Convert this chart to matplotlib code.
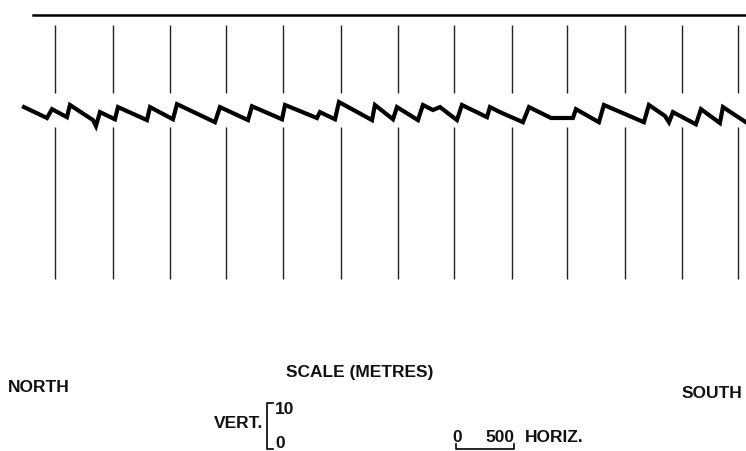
import matplotlib
matplotlib.use('Agg')
import matplotlib.pyplot as plt
from matplotlib.lines import Line2D

plt.rcParams['font.family'] = ['Liberation Sans', 'DejaVu Sans']

# seabed profile: distance along line (m), relative height (m)
dist = [-267, -69, -26, 103, 129, 328, 353, 388, 517, 543, 793, 819, 1017, 1052,
        1379, 1422, 1664, 1698, 1957, 1983, 2258, 2284, 2414, 2448, 2733, 2758,
        2914, 2948, 3129, 3172, 3258, 3319, 3465, 3508, 3724, 3750, 3836, 4034,
        4086, 4276, 4465, 4491, 4689, 4732, 5077, 5120, 5258, 5293, 5327, 5525,
        5569, 5732, 5758, 5956]
height = [3.1, 0.5, 2.6, 0.7, 3.6, 0.0, -1.4, 1.9, 0.2, 3.1, 0.0, 3.1, 0.2, 3.8,
          -0.5, 3.1, 0.0, 3.3, 0.2, 3.6, 0.5, 1.9, 0.2, 4.3, 0.0, 3.6,
          0.2, 3.1, 0.0, 3.6, 2.4, 3.1, 0.0, 3.6, 0.7, 3.1, 1.9, -0.5,
          3.1, 0.5, 0.5, 2.6, -0.5, 3.6, -0.5, 3.6, 1.0, -0.5, 1.9, -1.0,
          2.6, -0.7, 3.1, -0.5]

# fix marks along the line (m)
fixes = [0, 497, 991, 1474, 1968, 2463, 2954, 3442, 3937, 4413, 4913, 5402, 5885]

# surface trace
surface_start = -190
surface_end = 5956
surface_level = 25.0

fig = plt.figure(figsize=(7.46, 4.51), dpi=100)
ax = fig.add_axes([0, 0, 1, 1])
ax.set_xlim(-474, 5957)
ax.set_ylim(-78.8, 28.6)
ax.axis('off')

ax.plot([surface_start, surface_end], [surface_level, surface_level], color='black', lw=1.8)
ax.vlines(fixes, 6.4, 22.6, color='#222222', lw=1.0)
ax.vlines(fixes, -37.8, -1.7, color='#222222', lw=1.0)
ax.plot(dist, height, color='black', lw=3.0, solid_joinstyle='miter')

def px(x, y):
    return x / 746, 1 - y / 451

kw = dict(fontsize=12.5, fontweight='bold', color='#111111')
fig.text(*px(8, 387), 'NORTH', ha='left', va='center', **kw)
fig.text(*px(742, 393), 'SOUTH', ha='right', va='center', **kw)
fig.text(*px(360, 373), 'SCALE (METRES)', ha='center', va='center', **kw)
fig.text(*px(263, 423), 'VERT.', ha='right', va='center', **kw)
fig.text(*px(275, 409), '10', ha='left', va='center', **kw)
fig.text(*px(275, 444), '0', ha='left', va='center', **kw)
fig.text(*px(457, 437), '0', ha='center', va='center', **kw)
fig.text(*px(500, 437), '500', ha='center', va='center', **kw)
fig.text(*px(525, 437), 'HORIZ.', ha='left', va='center', **kw)

# vertical scale bracket
pts = [px(273, 403), px(267, 403), px(267, 449), px(273, 449)]
fig.add_artist(Line2D([p[0] for p in pts], [p[1] for p in pts], color='black', lw=1.2))
# horizontal scale bar
pts = [px(456, 444), px(456, 449), px(514, 449), px(514, 444)]
fig.add_artist(Line2D([p[0] for p in pts], [p[1] for p in pts], color='black', lw=1.2))

fig.savefig('out.png', dpi=100, facecolor='white')
